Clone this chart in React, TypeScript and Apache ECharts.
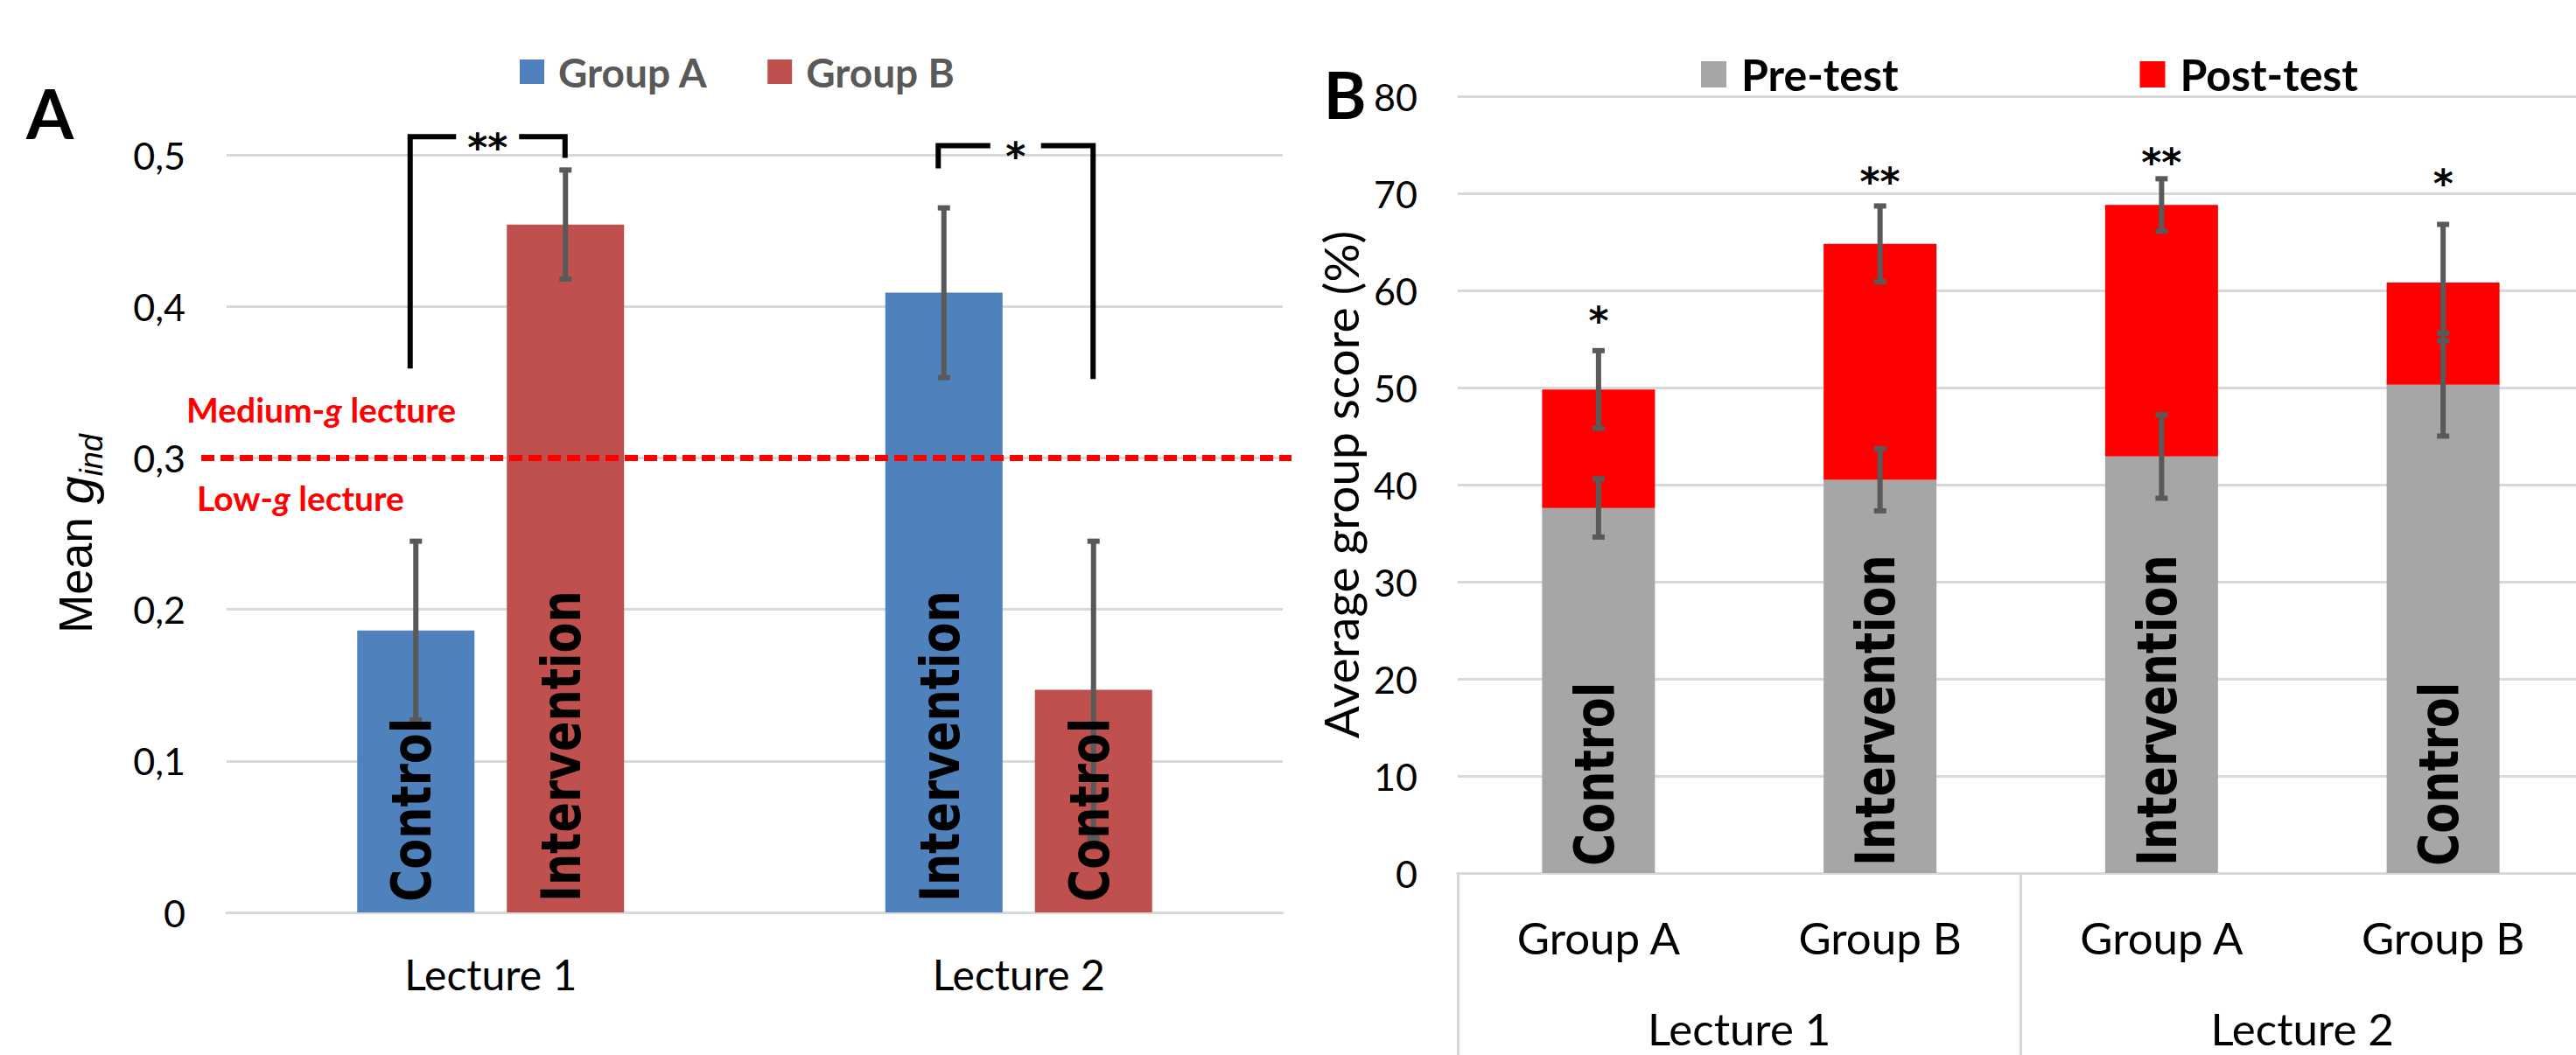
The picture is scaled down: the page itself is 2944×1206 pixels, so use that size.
import React, { useEffect, useRef } from "react";
import * as echarts from "echarts";

// ---------------- Panel A data ----------------
const lecturesA = ["Lecture 1", "Lecture 2"];
const seriesNamesA = ["Group A", "Group B"];
const meanGroupA = [0.186, 0.409];
const meanGroupB = [0.454, 0.147];
const errGroupA = [0.059, 0.056];
const errGroupB = [0.036, 0.098];
const conditionGroupA = ["Control", "Intervention"];
const conditionGroupB = ["Intervention", "Control"];
const yTickLabelsA = ["0", "0,1", "0,2", "0,3", "0,4", "0,5"];
const thresholdA = 0.3;
const thresholdAbove = ["Medium-", "g", " lecture"];
const thresholdBelow = ["Low-", "g", " lecture"];
const bracketLecture = [0, 1];
const bracketLeftEnd = [0.359, 0.491];
const bracketTop = [0.512, 0.506];
const bracketRightEnd = [0.498, 0.352];
const bracketStars = ["**", "*"];

// ---------------- Panel B data ----------------
const groupsB = ["Group A", "Group B", "Group A", "Group B"];
const lecturesB = ["Lecture 1", "Lecture 2"];
const seriesNamesB = ["Pre-test", "Post-test"];
const preTest = [37.6, 40.5, 42.9, 50.3];
const postGain = [12.2, 24.3, 25.9, 10.5];
const preErr = [3.0, 3.2, 4.3, 5.3];
const postErr = [4.0, 3.9, 2.7, 6.0];
const conditionB = ["Control", "Intervention", "Intervention", "Control"];
const starsB = ["*", "**", "**", "*"];
const starLevelB = [57.8, 72.1, 74.1, 71.9];

// ---------------- styles ----------------
const FONT = "Lato, 'Open Sans', sans-serif";
const LABEL_FONT = "'DejaVu Sans', Verdana, sans-serif";
const STAR_FONT = "'DejaVu Sans', 'Liberation Sans', sans-serif";
const NAME_FONT = "'Liberation Sans', Arial, sans-serif";
const GRID_COLOR = "#D9D9D9";
const ERR_COLOR = "#595959";
const BLUE = "#4F81BD";
const RED_A = "#C0504D";
const GRAY_B = "#A6A6A6";
const RED_B = "#FF0000";
const BAR_W_A = 134;
const BAR_GAP_A = 37;
const BAR_W_B = 129;
const OFF_A = (BAR_W_A + BAR_GAP_A) / 2;

function errorBar(offset: (side: number) => number) {
  return (params: any, api: any) => {
    const cat = api.value(0);
    const lo = api.coord([cat, api.value(1)]);
    const hi = api.coord([cat, api.value(2)]);
    const x = lo[0] + offset(api.value(3));
    return {
      type: "group",
      children: [
        { type: "line", shape: { x1: x, y1: hi[1], x2: x, y2: lo[1] }, style: { stroke: ERR_COLOR, lineWidth: 6 } },
        { type: "rect", shape: { x: x - 7, y: hi[1] - 3, width: 14, height: 6 }, style: { fill: ERR_COLOR } },
        { type: "rect", shape: { x: x - 7, y: lo[1] - 3, width: 14, height: 6 }, style: { fill: ERR_COLOR } },
      ],
    };
  };
}

function barText(texts: string[], offset: (side: number) => number, pad: number) {
  return (params: any, api: any) => {
    const cat = api.value(0);
    const p = api.coord([cat, 0]);
    return {
      type: "text",
      x: p[0] + offset(api.value(1)) - 5,
      y: p[1] - pad,
      rotation: Math.PI / 2,
      scaleX: 0.82,
      style: {
        text: texts[params.dataIndex],
        fontFamily: LABEL_FONT,
        fontWeight: "bold",
        fontSize: 62,
        fill: "#000",
        align: "left",
        verticalAlign: "middle",
      },
    };
  };
}

function buildOption(): any {
  const errA = [
    ...meanGroupA.map((v, i) => [i, v - errGroupA[i], v + errGroupA[i], 0]),
    ...meanGroupB.map((v, i) => [i, v - errGroupB[i], v + errGroupB[i], 1]),
  ];
  const labelsA = [...lecturesA.map((_, i) => [i, 0]), ...lecturesA.map((_, i) => [i, 1])];
  const labelTextsA = [...conditionGroupA, ...conditionGroupB];
  const brackets = bracketLecture.map((c, i) => [c, bracketLeftEnd[i], bracketTop[i], bracketRightEnd[i]]);

  const totals = preTest.map((v, i) => v + postGain[i]);
  const errB = [
    ...preTest.map((v, i) => [i, v - preErr[i], v + preErr[i], 0]),
    ...totals.map((v, i) => [i, v - postErr[i], v + postErr[i], 0]),
  ];
  const labelsB = groupsB.map((_, i) => [i, 0]);
  const starsData = groupsB.map((_, i) => [i, starLevelB[i]]);

  const richRed = (size: number) => ({
    b: { fontFamily: FONT, fontWeight: "bold", fontSize: size, fill: "#FF0000" },
    i: { fontFamily: FONT, fontWeight: "bold", fontStyle: "italic", fontSize: size, fill: "#FF0000" },
  });

  return {
    animation: false,
    backgroundColor: "#fff",
    textStyle: { fontFamily: FONT },
    graphic: [
      { type: "text", x: 57, y: 129, style: { text: "A", fontFamily: FONT, fontWeight: "bold", fontSize: 78, fill: "#000", align: "center", verticalAlign: "middle" } },
      { type: "text", x: 1537, y: 107, style: { text: "B", fontFamily: FONT, fontWeight: "bold", fontSize: 74, fill: "#000", align: "center", verticalAlign: "middle" } },
    ],
    legend: [
      {
        data: seriesNamesA,
        left: 594,
        top: 57,
        padding: 0,
        icon: "rect",
        itemWidth: 28,
        itemHeight: 28,
        itemGap: 68,
        selectedMode: false,
        textStyle: { fontFamily: FONT, fontWeight: "bold", fontSize: 46, color: "#595959", lineHeight: 50, padding: [0, 0, 0, 11] },
      },
      {
        data: seriesNamesB,
        left: 1944,
        top: 58,
        padding: 0,
        icon: "rect",
        itemWidth: 29,
        itemHeight: 30,
        itemGap: 276,
        selectedMode: false,
        textStyle: { fontFamily: FONT, fontWeight: "bold", fontSize: 50, color: "#000", lineHeight: 54, padding: [0, 0, 0, 12] },
      },
    ],
    grid: [
      { left: 259, top: 177, width: 1207, height: 866, containLabel: false, outerBoundsMode: "none" },
      { left: 1666, top: 110, width: 1287, height: 888, containLabel: false, outerBoundsMode: "none" },
    ],
    xAxis: [
      {
        type: "category",
        gridIndex: 0,
        data: lecturesA,
        axisLine: { show: true, lineStyle: { color: GRID_COLOR, width: 3 } },
        axisTick: { show: false },
        axisLabel: { fontFamily: FONT, fontSize: 48, color: "#000", margin: 46 },
      },
      {
        type: "category",
        gridIndex: 1,
        position: "bottom",
        data: groupsB,
        axisLine: { show: true, lineStyle: { color: GRID_COLOR, width: 3 } },
        axisTick: { show: false },
        axisLabel: { fontFamily: FONT, fontSize: 51, color: "#000", margin: 48 },
      },
      {
        type: "category",
        gridIndex: 1,
        position: "bottom",
        data: lecturesB,
        axisLine: { show: false },
        axisTick: { show: true, interval: 0, length: 212, lineStyle: { color: GRID_COLOR, width: 3 } },
        axisLabel: { fontFamily: FONT, fontSize: 51, color: "#000", margin: 152 },
      },
    ],
    yAxis: [
      {
        type: "value",
        gridIndex: 0,
        min: 0,
        max: 0.5,
        interval: 0.1,
        axisLine: { show: false },
        axisTick: { show: false },
        splitLine: { lineStyle: { color: GRID_COLOR, width: 3 } },
        axisLabel: {
          fontFamily: FONT,
          fontSize: 43,
          color: "#000",
          margin: 47,
          formatter: (v: number) => yTickLabelsA[Math.round(v / 0.1)],
        },
        name: "{m|Mean }{g|g}{s|ind}",
        nameLocation: "middle",
        nameRotate: 90,
        nameGap: 137,
        nameTextStyle: {
          rich: {
            m: { fontFamily: NAME_FONT, fontSize: 53, color: "#000", lineHeight: 72 },
            g: { fontFamily: NAME_FONT, fontStyle: "italic", fontSize: 58, color: "#000", lineHeight: 72 },
            s: { fontFamily: NAME_FONT, fontStyle: "italic", fontSize: 36, color: "#000", lineHeight: 36, verticalAlign: "bottom" },
          },
        },
      },
      {
        type: "value",
        gridIndex: 1,
        min: 0,
        max: 80,
        interval: 10,
        axisLine: { show: false },
        axisTick: { show: false },
        splitLine: { lineStyle: { color: GRID_COLOR, width: 3 } },
        axisLabel: { fontFamily: FONT, fontSize: 43, color: "#000", margin: 46 },
        name: "Average group score (%)",
        nameLocation: "middle",
        nameRotate: 90,
        nameGap: 107,
        nameTextStyle: { fontFamily: FONT, fontSize: 55, color: "#000" },
      },
    ],
    series: [
      {
        name: seriesNamesA[0],
        type: "bar",
        xAxisIndex: 0,
        yAxisIndex: 0,
        data: meanGroupA,
        barWidth: BAR_W_A,
        barGap: ((BAR_GAP_A / BAR_W_A) * 100).toFixed(1) + "%",
        itemStyle: { color: BLUE },
      },
      {
        name: seriesNamesA[1],
        type: "bar",
        xAxisIndex: 0,
        yAxisIndex: 0,
        data: meanGroupB,
        barWidth: BAR_W_A,
        barGap: ((BAR_GAP_A / BAR_W_A) * 100).toFixed(1) + "%",
        itemStyle: { color: RED_A },
      },
      {
        type: "custom",
        name: "thresholdA",
        xAxisIndex: 0,
        yAxisIndex: 0,
        clip: false,
        z: 4,
        data: [[0, thresholdA]],
        renderItem: (params: any, api: any) => {
          const cs = params.coordSys;
          const y = api.coord([0, api.value(1)])[1];
          return {
            type: "group",
            children: [
              { type: "line", shape: { x1: cs.x - 29, y1: y, x2: cs.x + cs.width + 10, y2: y }, style: { stroke: "#FF0000", lineWidth: 7, lineDash: [15, 7] } },
              {
                type: "text",
                x: cs.x - 46,
                y: y - 55,
                style: {
                  text: `{b|${thresholdAbove[0]}}{i|${thresholdAbove[1]}}{b|${thresholdAbove[2]}}`,
                  rich: richRed(39),
                  fill: "#FF0000",
                  align: "left",
                  verticalAlign: "middle",
                },
              },
              {
                type: "text",
                x: cs.x - 34,
                y: y + 46,
                style: {
                  text: `{b|${thresholdBelow[0]}}{i|${thresholdBelow[1]}}{b|${thresholdBelow[2]}}`,
                  rich: richRed(39),
                  fill: "#FF0000",
                  align: "left",
                  verticalAlign: "middle",
                },
              },
            ],
          };
        },
      },
      {
        type: "custom",
        name: "errA",
        xAxisIndex: 0,
        yAxisIndex: 0,
        clip: false,
        z: 5,
        data: errA,
        renderItem: errorBar((s) => (s === 0 ? -OFF_A : OFF_A)),
      },
      {
        type: "custom",
        name: "labelsA",
        xAxisIndex: 0,
        yAxisIndex: 0,
        clip: false,
        z: 6,
        data: labelsA,
        renderItem: barText(labelTextsA, (s) => (s === 0 ? -OFF_A : OFF_A), 12),
      },
      {
        type: "custom",
        name: "bracketsA",
        xAxisIndex: 0,
        yAxisIndex: 0,
        clip: false,
        z: 6,
        data: brackets,
        renderItem: (params: any, api: any) => {
          const cat = api.value(0);
          const t = api.coord([cat, api.value(2)]);
          const yL = api.coord([cat, api.value(1)])[1];
          const yR = api.coord([cat, api.value(3)])[1];
          const xL = t[0] - 92;
          const xR = t[0] + 85;
          const mid = (xL + xR) / 2;
          const txt = bracketStars[params.dataIndex];
          const half = txt.length === 2 ? 36 : 29;
          const ls = { stroke: "#000", lineWidth: 6, fill: null, lineJoin: "miter", lineCap: "butt" };
          return {
            type: "group",
            children: [
              { type: "polyline", shape: { points: [[xL, yL], [xL, t[1]], [mid - half, t[1]]] }, style: ls },
              { type: "polyline", shape: { points: [[mid + half, t[1]], [xR, t[1]], [xR, yR]] }, style: ls },
              { type: "text", x: mid, y: t[1] + 12, style: { text: txt, fontFamily: STAR_FONT, fontWeight: "bold", fontSize: 44, fill: "#000", align: "center", verticalAlign: "middle" } },
            ],
          };
        },
      },
      {
        name: seriesNamesB[0],
        type: "bar",
        xAxisIndex: 1,
        yAxisIndex: 1,
        stack: "score",
        data: preTest,
        barWidth: BAR_W_B,
        itemStyle: { color: GRAY_B },
      },
      {
        name: seriesNamesB[1],
        type: "bar",
        xAxisIndex: 1,
        yAxisIndex: 1,
        stack: "score",
        data: postGain,
        barWidth: BAR_W_B,
        itemStyle: { color: RED_B },
      },
      {
        type: "custom",
        name: "errB",
        xAxisIndex: 1,
        yAxisIndex: 1,
        clip: false,
        z: 5,
        data: errB,
        renderItem: errorBar(() => 0),
      },
      {
        type: "custom",
        name: "labelsB",
        xAxisIndex: 1,
        yAxisIndex: 1,
        clip: false,
        z: 6,
        data: labelsB,
        renderItem: barText(conditionB, () => 0, 8),
      },
      {
        type: "custom",
        name: "starsB",
        xAxisIndex: 1,
        yAxisIndex: 1,
        clip: false,
        z: 6,
        data: starsData,
        renderItem: (params: any, api: any) => {
          const p = api.coord([api.value(0), api.value(1)]);
          return {
            type: "text",
            x: p[0],
            y: p[1] + 10,
            style: { text: starsB[params.dataIndex], fontFamily: STAR_FONT, fontWeight: "bold", fontSize: 44, fill: "#000", align: "center", verticalAlign: "middle" },
          };
        },
      },
    ],
  };
}

export default function App() {
  const ref = useRef<HTMLDivElement>(null);
  useEffect(() => {
    document.body.style.margin = "0";
    const chart = echarts.init(ref.current as HTMLDivElement, null, { renderer: "svg" });
    chart.setOption(buildOption());
    return () => chart.dispose();
  }, []);
  return <div ref={ref} style={{ width: 2944, height: 1206, background: "#fff" }} />;
}
